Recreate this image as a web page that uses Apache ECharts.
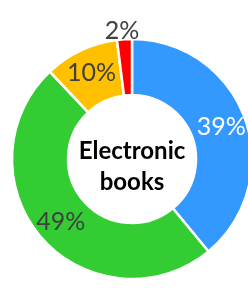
<!DOCTYPE html>
<html>
<head>
<meta charset="utf-8">
<script src="https://cdn.jsdelivr.net/npm/echarts@6/dist/echarts.min.js"></script>
<style>
  html, body { margin: 0; padding: 0; background: #fff; }
  #chart { width: 248px; height: 288px; }
</style>
</head>
<body>
<div id="chart"></div>
<script>
// slice values in percent, clockwise from 12 o'clock
const categories = ['A', 'B', 'C', 'D']
const values = [39, 49, 10, 2]
const colors = ['#3399ff', '#33cc33', '#ffc000', '#ff0000']
const labelColors = ['#ffffff', '#404040', '#404040', '#404040']
const centerLabel = 'Electronic\nbooks'

const chart = echarts.init(document.getElementById('chart'))

chart.setOption({
  animation: false,
  graphic: [{
    type: 'text',
    x: 132,
    y: 167,
    style: {
      text: centerLabel,
      fill: '#000',
      font: 'bold 24px Lato',
      align: 'center',
      verticalAlign: 'middle',
      lineHeight: 31,
    },
  }],
  series: [{
    type: 'pie',
    center: [132, 159],
    radius: [64, 120],
    startAngle: 90,
    clockwise: true,
    labelLine: { show: false },
    itemStyle: { borderColor: '#fff', borderWidth: 2.5 },
    label: {
      show: true,
      position: 'inside',
      formatter: '{c}%',
      fontFamily: 'Lato',
      fontSize: 25,
    },
    data: categories.map((name, i) => ({
      name,
      value: values[i],
      itemStyle: { color: colors[i] },
      label: i === 3
        ? { color: labelColors[i], offset: [-4, -33] }
        : { color: labelColors[i] },
    })),
  }],
})
</script>
</body>
</html>
